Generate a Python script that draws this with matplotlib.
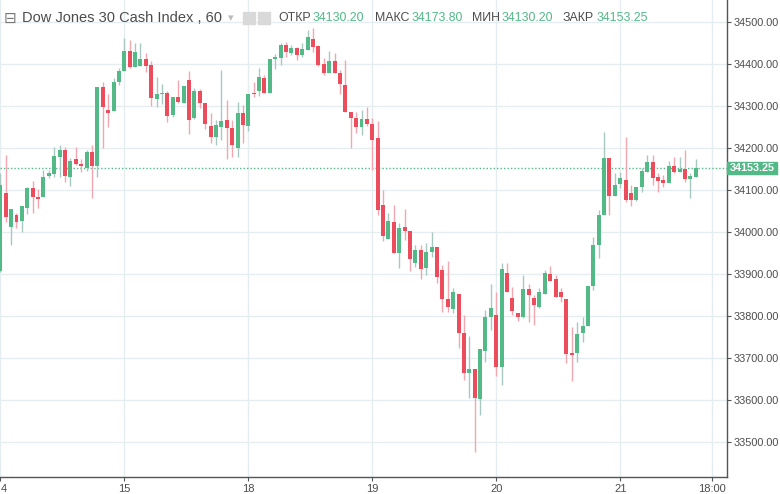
import numpy as np
import matplotlib
matplotlib.use('Agg')
from matplotlib import pyplot as plt
from matplotlib.patches import Rectangle

# hourly candles, Dow Jones 30 Cash Index
opens = [33906, 34092, 34013, 34041, 34026, 34056, 34104, 34083, 34083, 34133,
         34138, 34178, 34195, 34132, 34173, 34162, 34152, 34191, 34156, 34345,
         34291, 34289, 34358, 34384, 34432, 34394, 34396, 34412, 34398, 34317,
         34328, 34332, 34279, 34321, 34308, 34362, 34271, 34336, 34308, 34252,
         34227, 34251, 34267, 34247, 34199, 34284, 34252, 34332, 34336, 34366,
         34332, 34411, 34414, 34445, 34426, 34437, 34421, 34433, 34460, 34443,
         34400, 34378, 34408, 34379, 34350, 34286, 34271, 34249, 34268, 34257,
         34223, 34064, 33983, 34023, 33951, 34013, 34002, 33927, 33957, 33914,
         33953, 33964, 33910, 33841, 33817, 33852, 33759, 33664, 33673, 33602,
         33717, 33797, 33802, 33678, 33903, 33842, 33806, 33798, 33864, 33842,
         33822, 33852, 33900, 33887, 33856, 33840, 33711, 33713, 33760, 33776,
         33871, 33969, 34041, 34176, 34086, 34114, 34124, 34094, 34076, 34108,
         34144, 34167, 34130, 34124, 34116, 34158, 34144, 34149, 34126, 34130.20]
highs = [34141, 34183, 34054, 34045, 34062, 34108, 34122, 34102, 34148, 34148,
         34203, 34207, 34203, 34176, 34203, 34173, 34195, 34207, 34346, 34358,
         34329, 34366, 34390, 34461, 34457, 34449, 34449, 34426, 34406, 34368,
         34352, 34336, 34321, 34362, 34348, 34384, 34342, 34340, 34308, 34283,
         34267, 34386, 34314, 34267, 34310, 34302, 34329, 34358, 34390, 34374,
         34411, 34424, 34449, 34453, 34445, 34441, 34449, 34481, 34486, 34445,
         34414, 34432, 34426, 34386, 34410, 34286, 34286, 34291, 34298, 34271,
         34265, 34100, 34045, 34064, 34022, 34055, 34002, 33969, 33969, 33974,
         34001, 33964, 33921, 33932, 33866, 33852, 33802, 33752, 33673, 33721,
         33814, 33876, 33858, 33926, 33926, 33870, 33806, 33898, 33876, 33850,
         33866, 33910, 33919, 33898, 33866, 33840, 33775, 33786, 33798, 33871,
         33988, 34052, 34239, 34176, 34140, 34144, 34227, 34112, 34106, 34152,
         34183, 34183, 34140, 34136, 34169, 34179, 34179, 34195, 34140, 34173.80]
lows = [33905, 34025, 33969, 34009, 34001, 34043, 34046, 34056, 34083, 34128,
        34132, 34130, 34120, 34110, 34160, 34144, 34146, 34081, 34132, 34199,
        34251, 34289, 34350, 34384, 34390, 34394, 34396, 34382, 34300, 34297,
        34305, 34263, 34273, 34308, 34308, 34233, 34268, 34295, 34245, 34213,
        34207, 34219, 34173, 34179, 34179, 34211, 34241, 34322, 34324, 34332,
        34332, 34387, 34398, 34417, 34421, 34410, 34417, 34433, 34429, 34395,
        34374, 34378, 34379, 34329, 34286, 34199, 34235, 34230, 34252, 34148,
        34041, 33979, 33983, 33949, 33914, 33981, 33906, 33917, 33887, 33898,
        33941, 33878, 33810, 33810, 33806, 33723, 33648, 33604, 33477, 33564,
        33691, 33767, 33657, 33636, 33858, 33802, 33788, 33795, 33786, 33779,
        33818, 33852, 33884, 33846, 33834, 33687, 33646, 33691, 33739, 33776,
        33862, 33938, 34041, 34041, 34086, 34104, 34072, 34063, 34075, 34096,
        34144, 34112, 34096, 34106, 34116, 34140, 34142, 34120, 34080, 34130.20]
closes = [34112, 34035, 34054, 34025, 34062, 34104, 34083, 34079, 34132, 34141,
          34181, 34195, 34133, 34170, 34161, 34156, 34190, 34156, 34346, 34298,
          34283, 34358, 34384, 34432, 34392, 34428, 34412, 34396, 34318, 34329,
          34330, 34276, 34321, 34310, 34348, 34267, 34336, 34306, 34257, 34227,
          34255, 34265, 34247, 34207, 34284, 34255, 34329, 34328, 34370, 34332,
          34411, 34417, 34445, 34428, 34437, 34421, 34436, 34465, 34441, 34398,
          34378, 34408, 34379, 34352, 34286, 34271, 34249, 34268, 34257, 34219,
          34052, 33991, 34026, 33949, 34009, 34003, 33935, 33957, 33912, 33953,
          33964, 33894, 33840, 33821, 33856, 33759, 33665, 33673, 33604, 33721,
          33797, 33818, 33678, 33911, 33858, 33811, 33798, 33864, 33850, 33826,
          33856, 33903, 33884, 33846, 33845, 33710, 33707, 33757, 33776, 33871,
          33969, 34041, 34176, 34086, 34112, 34128, 34076, 34076, 34106, 34145,
          34167, 34128, 34122, 34116, 34158, 34144, 34150, 34126, 34133, 34153.25]

day_labels = ['4', '15', '18', '19', '20', '21', '18:00']
day_ticks = [0, 23, 46, 69, 92, 115, 132]
price_ticks = np.arange(33500, 34501, 100)

last_price = 34153.25
header = [('ОТКР', '34130.20'), ('МАКС', '34173.80'), ('МИН', '34130.20'), ('ЗАКР', '34153.25')]

UP = '#53b987'
DOWN = '#eb4d5c'
UP_WICK = '#a8c9c2'
DOWN_WICK = '#f2a7b0'
GRID = '#e6edf1'
TXT = '#4c4c4c'

plt.rcParams['font.family'] = ['Liberation Sans', 'DejaVu Sans']

W, H = 780, 494
fig = plt.figure(figsize=(W / 100, H / 100), dpi=100)
ax = fig.add_axes([0, 17 / H, 727 / W, 477 / H])

o = np.array(opens)
h = np.array(highs)
l = np.array(lows)
c = np.array(closes)
idx = np.arange(len(o))
up = c >= o

# wicks then bodies
ax.vlines(idx[up], l[up], h[up], color=UP_WICK, lw=1, zorder=2)
ax.vlines(idx[~up], l[~up], h[~up], color=DOWN_WICK, lw=1, zorder=2)
body_lo = np.minimum(o, c)
body_h = np.maximum(np.abs(c - o), 2.4)
ax.bar(idx, body_h, bottom=body_lo, width=0.74,
       color=np.where(up, UP, DOWN), linewidth=0, zorder=3)

# last price line
ax.axhline(last_price, color=UP, lw=1, ls=(0, (1, 1.5)), zorder=1.5)

ax.set_xlim(-0.06, 134.8)
ax.set_ylim(33416.7, 34552.4)

ax.set_yticks(price_ticks)
ax.set_yticklabels(['%.2f' % p for p in price_ticks])
ax.yaxis.tick_right()
ax.set_xticks(day_ticks)
ax.set_xticklabels(day_labels)
ax.tick_params(axis='both', colors='#555555', labelcolor=TXT, labelsize=8, length=3, width=0.8)
ax.tick_params(axis='y', pad=2, labelsize=7.8)
ax.tick_params(axis='x', pad=2)
ax.get_xticklabels()[0].set_horizontalalignment('left')
ax.grid(True, color=GRID, lw=1, zorder=0)
ax.set_axisbelow(True)

for s in ['top', 'left']:
    ax.spines[s].set_visible(False)
for s in ['bottom', 'right']:
    ax.spines[s].set_color('#555555')
    ax.spines[s].set_linewidth(1)

# price tag on the right axis
fig.patches.append(Rectangle((727 / W, 1 - 174 / H), 50 / W, 12 / H,
                             transform=fig.transFigure, color=UP, zorder=5))
fig.text(752 / W, 1 - 168 / H, '%.2f' % last_price, color='white', fontsize=7.8,
         fontweight='bold', ha='center', va='center', zorder=6)

# header
ty = 1 - 18 / H
fig.text(4 / W, ty, '⊟', fontsize=11, color='#777777', va='center', family='DejaVu Sans')
fig.text(22 / W, ty, 'Dow Jones 30 Cash Index , 60', fontsize=10.5, color=TXT, va='center')
fig.text(228 / W, ty, '▾', fontsize=8, color='#bbbbbb', va='center', family='DejaVu Sans')
for xx in [243, 258]:
    fig.patches.append(Rectangle((xx / W, 1 - 24 / H), 12 / W, 12 / H,
                                 transform=fig.transFigure, color='#d9d9d9', zorder=5))

renderer = fig.canvas.get_renderer()
label_x = [278, 375, 472, 563]
for (lab, val), lx in zip(header, label_x):
    t = fig.text(lx / W, ty, lab, fontsize=8.9, color=TXT, va='center')
    x1 = t.get_window_extent(renderer).x1
    fig.text((x1 + 2) / W, ty, val, fontsize=8.9, color=UP, va='center')

plt.savefig('out.png', dpi=100)
